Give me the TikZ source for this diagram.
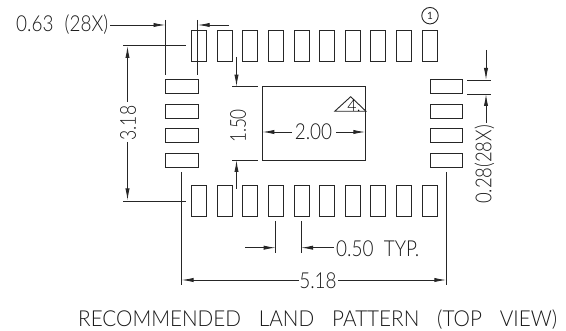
\documentclass[tikz,border=0pt]{standalone}
\usepackage{fontspec}
\usepackage{graphicx}
\usetikzlibrary{arrows.meta}
\newfontfamily\cad{Lato Light}
\newcommand{\sx}[2]{\scalebox{#1}[1]{#2}}
\tikzset{
 x=1pt,y=-1pt,
 ln/.style={line width=0.9pt,color=black!85},
 pad/.style={ln},
 dim/.style={ln,-{Latex[length=12pt,width=4.2pt]}},
 lab/.style={inner sep=0pt,font=\cad\fontsize{22}{22}\selectfont,color=black!90},
}
\begin{document}
\begin{tikzpicture}
\path[use as bounding box] (0,0) rectangle (566,331);
% pads
\foreach \i in {0,...,9}{
 \pgfmathsetmacro\xa{191.7+25.6*\i}
 \draw[pad] (\xa,30) rectangle (\xa+15,61.3);
 \draw[pad] (\xa,185.3) rectangle (\xa+15,216.7);
}
\foreach \yy in {79.7,104.3,128.3,153}{
 \draw[pad] (165.3,\yy) rectangle (198.3,\yy+14);
 \draw[pad] (430,\yy) rectangle (462.7,\yy+14);
}
\draw[ln] (262.3,86.7) rectangle (365.3,160);
% triangle
\draw[ln] (334.7,111.3) -- (350.7,96.7) -- (366,111.3) -- cycle;
\node[inner sep=0pt,font=\cad\fontsize{16}{16}\selectfont] (four) at (354,105.5) {4.};
% pin 1
\node[draw,circle,ln,minimum size=16.5pt,inner sep=0pt,font=\fontspec{Lato}\fontsize{10}{10}\selectfont] (pinone) at (430,15.7) {1};
% 0.63
\node[lab,anchor=west] (a) at (16,25) {\sx{.86}{0.63\hspace{13pt}(28X)}};
\draw[ln] (165.5,20) -- (165.5,75) (197.7,20) -- (197.7,75);
\draw[dim] (a.east)++(2,0) -- (165.5,25);
\draw[dim] (229,25) -- (197.7,25);
% 3.18
\draw[ln] (123,45.5) -- (186,45.5) (123,201) -- (186,201);
\node[lab,rotate=90] (b) at (128,123) {\sx{.8}{3.18}};
\draw[dim] (127.5,102) -- (127.5,46);
\draw[dim] (127.5,142) -- (127.5,200.5);
% 1.50
\draw[ln] (232,86.7) -- (258,86.7) (232,160) -- (258,160);
\node[lab,rotate=90] (c) at (238,126) {\sx{.78}{1.50}};
\draw[dim] (236.5,57) -- (236.5,86.7);
\draw[dim] (236.5,189) -- (236.5,160);
% 2.00
\node[lab] (d) at (313.5,131.5) {\sx{.86}{2.00}};
\draw[dim] (292,132) -- (262.3,132);
\draw[dim] (336,132) -- (365.3,132);
% 0.28
\draw[ln] (467,80) -- (491,80) (467,94) -- (491,94);
\draw[dim] (486,50) -- (486,80);
\draw[dim] (486,123) -- (486,94);
\node[lab,rotate=90] (e) at (484.5,164.5) {\sx{.84}{0.28(28X)}};
% 0.50
\draw[ln] (275.7,221) -- (275.7,253) (301,221) -- (301,253);
\draw[dim] (245,247.7) -- (275.7,247.7);
\node[lab,anchor=west] (f) at (336,249) {\sx{.86}{0.50\hspace{12pt}TYP.}};
\draw[dim] (334,247.7) -- (301,247.7);
% 5.18
\draw[ln] (181.5,172) -- (181.5,285) (446.3,172) -- (446.3,285);
\node[lab] (g) at (318,281) {\sx{.86}{5.18}};
\draw[dim] (299,280) -- (181.5,280);
\draw[dim] (338,280) -- (446.3,280);
% title
\node[lab,anchor=base west] (t) at (78,326.7) {\sx{.94}{RECOMMENDED\hspace{19pt}LAND\hspace{19pt}PATTERN\hspace{19pt}(TOP\hspace{19pt}VIEW)}};
\end{tikzpicture}
\end{document}
